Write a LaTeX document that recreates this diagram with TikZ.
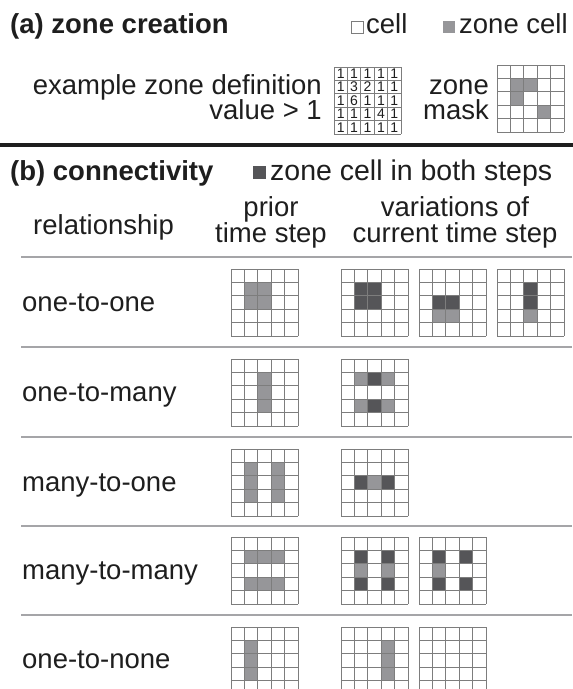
\documentclass[tikz,border=0pt]{standalone}
\usepackage{fontspec}
\setmainfont{Liberation Sans}

% cell size of every 5x5 grid (in pt, 1pt = one unit here)
\newcommand\cs{13.4}
% \zgrid{x}{y}{light cells r/c}{dark cells r/c}
\newcommand\zgrid[4]{%
  \begin{scope}[shift={(#1,#2)}]
    \foreach \r/\c in {#3} {\fill[zlight] (\c*\cs,\r*\cs) rectangle ++(\cs,\cs);}
    \foreach \r/\c in {#4} {\fill[zdark] (\c*\cs,\r*\cs) rectangle ++(\cs,\cs);}
    \foreach \i in {0,...,5} {
      \draw[gridline] (\i*\cs,0) -- (\i*\cs,5*\cs);
      \draw[gridline] (0,\i*\cs) -- (5*\cs,\i*\cs);
    }
  \end{scope}}

\definecolor{zlightc}{RGB}{150,150,153}
\definecolor{zdarkc}{RGB}{85,85,88}
\definecolor{gridc}{RGB}{125,125,125}
\definecolor{sepc}{RGB}{165,165,168}
\definecolor{inkc}{RGB}{30,30,30}

\tikzset{
  zlight/.style={fill=zlightc},
  zdark/.style={fill=zdarkc},
  gridline/.style={draw=gridc, line width=1pt},
  txt/.style={inner sep=0pt, text=inkc, font=\fontsize{27.5}{30}\selectfont},
  head/.style={txt, font=\fontsize{27.5}{30}\selectfont\bfseries},
  numtxt/.style={inner sep=0pt, text=inkc, font=\fontsize{14}{14}\selectfont},
  sepline/.style={draw=sepc, line width=2pt},
  legendbox/.style={draw=gridc, line width=0.6pt}
}

\begin{document}
\begin{tikzpicture}[x=1pt,y=-1pt]
  \useasboundingbox (0,0) rectangle (573,689);
  \clip (0,0) rectangle (573,689);
  \fill[white] (0,0) rectangle (573,689);

  % ---------- (a) zone creation ----------
  \node[head, anchor=base west] (ta) at (10,33) {(a) zone creation};
  \draw[legendbox, fill=white] (351,21) rectangle (363,33);
  \node[txt, anchor=base west] (lcell) at (366,33) {cell};
  \fill[zlight] (443,21) rectangle (455,33);
  \node[txt, anchor=base west] (lzone) at (459,33) {zone cell};

  \node[txt, anchor=base east] (def1) at (322,94) {example zone definition};
  \node[txt, anchor=base east] (def2) at (322,119) {value > 1};

  % value grid
  \zgrid{334}{67}{}{}
  \foreach \row [count=\r from 0] in {{1,1,1,1,1},{1,3,2,1,1},{1,6,1,1,1},{1,1,1,4,1},{1,1,1,1,1}} {
    \foreach \v [count=\c from 0] in \row {
      \node[numtxt] (n\r\c) at (334+\c*\cs+0.5*\cs, 67+\r*\cs+0.5*\cs) {\v};
    }
  }

  \node[txt, anchor=base east] (zm1) at (489,94) {zone};
  \node[txt, anchor=base east] (zm2) at (489,119) {mask};
  \zgrid{497}{65}{1/1,1/2,2/1,3/3}{}

  \draw[draw=inkc, line width=4pt] (0,145) -- (573,145);

  % ---------- (b) connectivity ----------
  \node[head, anchor=base west] (tb) at (10,180) {(b) connectivity};
  \fill[zdark] (253,166) rectangle (266,179);
  \node[txt, anchor=base west, font=\fontsize{28.5}{31}\selectfont] (lboth) at (270,180) {zone cell in both steps};

  \node[txt, anchor=base west] (hrel) at (33,234) {relationship};
  \node[txt, anchor=base] (hpri1) at (271,216) {prior};
  \node[txt, anchor=base] (hpri2) at (271,242) {time step};
  \node[txt, anchor=base] (hvar1) at (455,216) {variations of};
  \node[txt, anchor=base] (hvar2) at (455,242) {current time step};

  \coordinate (s0a) at (21,257); \coordinate (s0b) at (572,257);
  \coordinate (s1a) at (21,347); \coordinate (s1b) at (572,347);
  \coordinate (s2a) at (21,437); \coordinate (s2b) at (572,437);
  \coordinate (s3a) at (21,526); \coordinate (s3b) at (572,526);
  \coordinate (s4a) at (21,615); \coordinate (s4b) at (572,615);
  \foreach \k in {0,...,4} {\draw[sepline] (s\k a) -- (s\k b);}

  % one-to-one
  \node[txt, anchor=base west] (r1) at (22,311) {one-to-one};
  \zgrid{231}{269}{1/1,1/2,2/1,2/2}{}
  \zgrid{341}{269}{}{1/1,1/2,2/1,2/2}
  \zgrid{419}{269}{3/1,3/2}{2/1,2/2}
  \zgrid{497}{269}{3/2}{1/2,2/2}

  % one-to-many
  \node[txt, anchor=base west] (r2) at (22,401) {one-to-many};
  \zgrid{231}{359}{1/2,2/2,3/2}{}
  \zgrid{341}{359}{1/1,1/3,3/1,3/3}{1/2,3/2}

  % many-to-one
  \node[txt, anchor=base west] (r3) at (22,491) {many-to-one};
  \zgrid{231}{449}{1/1,2/1,3/1,1/3,2/3,3/3}{}
  \zgrid{341}{449}{2/2}{2/1,2/3}

  % many-to-many
  \node[txt, anchor=base west] (r4) at (22,579) {many-to-many};
  \zgrid{231}{537}{1/1,1/2,1/3,3/1,3/2,3/3}{}
  \zgrid{341}{537}{2/1,2/3}{1/1,3/1,1/3,3/3}
  \zgrid{419}{537}{2/1}{1/1,3/1,1/3,3/3}

  % one-to-none
  \node[txt, anchor=base west] (r5) at (22,668) {one-to-none};
  \zgrid{231}{627}{1/1,2/1,3/1}{}
  \zgrid{341}{627}{1/3,2/3,3/3}{}
  \zgrid{419}{627}{}{}
\end{tikzpicture}
\end{document}
